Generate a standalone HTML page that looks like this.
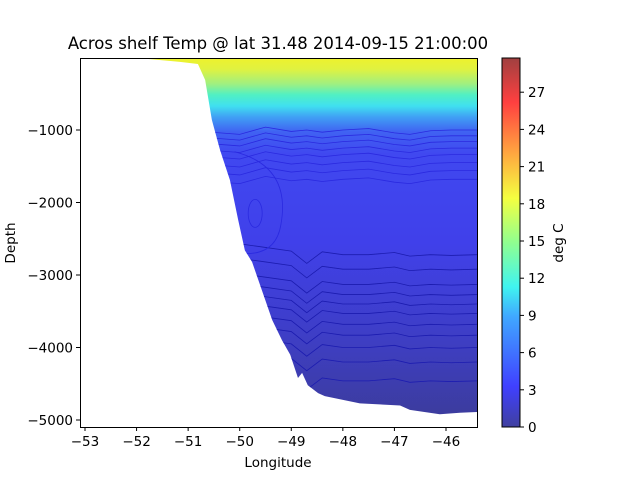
<!DOCTYPE html>
<html><head><meta charset="utf-8">
<style>
body{margin:0;background:#fff;}
svg text{font-family:"DejaVu Sans","Liberation Sans",sans-serif;fill:#000;}
</style></head>
<body>
<svg id="chart" width="640" height="480" viewBox="0 0 640 480">
<defs>
<linearGradient id="oceanGrad" x1="0" y1="58" x2="0" y2="427" gradientUnits="userSpaceOnUse">
<stop offset="0" stop-color="#eef22c"/>
<stop offset="0.03" stop-color="#e0f240"/>
<stop offset="0.07" stop-color="#a0f080"/>
<stop offset="0.10" stop-color="#50f0c4"/>
<stop offset="0.13" stop-color="#40e0f0"/>
<stop offset="0.16" stop-color="#40a0f4"/>
<stop offset="0.20" stop-color="#4062f2"/>
<stop offset="0.26" stop-color="#4048f0"/>
<stop offset="0.5" stop-color="#4040ea"/>
<stop offset="0.75" stop-color="#3e3ec6"/>
<stop offset="1" stop-color="#3c3c98"/>
</linearGradient>
<linearGradient id="cbGrad" x1="0" y1="1" x2="0" y2="0">
<stop offset="0" stop-color="#40409f"/>
<stop offset="0.11" stop-color="#4040ff"/>
<stop offset="0.30" stop-color="#40a8ff"/>
<stop offset="0.38" stop-color="#40f4f0"/>
<stop offset="0.50" stop-color="#90ff90"/>
<stop offset="0.62" stop-color="#f4ff40"/>
<stop offset="0.74" stop-color="#ffa840"/>
<stop offset="0.88" stop-color="#ff4040"/>
<stop offset="1" stop-color="#a04040"/>
</linearGradient>
<clipPath id="ocean"><path id="oceanPath"/></clipPath>
</defs>
<text x="278" y="49" font-size="16.5" text-anchor="middle">Acros shelf Temp @ lat 31.48 2014-09-15 21:00:00</text>
<g id="plot"></g>
<rect x="80.5" y="58.5" width="397" height="369" fill="none" stroke="#000" stroke-width="1"/>
<g id="xticks"></g>
<g id="yticks"></g>
<text x="278" y="467" font-size="13.5" text-anchor="middle">Longitude</text>
<text transform="translate(15,243) rotate(-90)" font-size="13.5" text-anchor="middle">Depth</text>
<rect x="502" y="58" width="18" height="369" fill="url(#cbGrad)" stroke="#000" stroke-width="1"/>
<g id="cbticks"></g>
<text transform="translate(563,243) rotate(-90)" font-size="13.5" text-anchor="middle">deg C</text>
</svg>
<script>
const bathyLon=[-51.93,-51.16,-50.81,-50.67,-50.54,-50.38,-50.19,-50.03,-49.90,-49.76,-49.57,-49.37,-49.18,-49.02,-48.87,-48.79,-48.68,-48.48,-48.35,-47.67,-46.89,-46.70,-46.12,-45.73,-45.40];
const bathyDepth=[-10,-60,-90,-310,-860,-1280,-1690,-2240,-2660,-2820,-3210,-3620,-3900,-4100,-4420,-4350,-4520,-4630,-4670,-4770,-4800,-4860,-4920,-4900,-4890];
const upperLevels=[-1000,-1080,-1160,-1250,-1340,-1450,-1560,-1680];
const upperOffset=[0,60,-40,20,0,30,0,-20,40,60,10,0,0];
const contourLevels=[-2720,-2920,-3130,-3270,-3400,-3530,-3680,-3830,-4000,-4200,-4460];
const contourLon=[-50.7,-50.0,-49.5,-49.0,-48.7,-48.4,-48.0,-47.5,-47.0,-46.7,-46.3,-45.9,-45.4];
const contourOffset=[-150,-150,-100,-50,120,-40,0,0,-30,20,0,10,0];
const cbTicks=[0,3,6,9,12,15,18,21,24,27];
const xTicks=[-53,-52,-51,-50,-49,-48,-47,-46];
const yTicks=[-1000,-2000,-3000,-4000,-5000];

const NS='http://www.w3.org/2000/svg';
const X=v=>85+(v+53)*51.57;
const Y=d=>57.5-d*0.0725;
const CB=t=>427-t*12.4;
function mk(tag,attrs,parent){const e=document.createElementNS(NS,tag);for(const k in attrs)e.setAttribute(k,attrs[k]);parent.appendChild(e);return e;}

const plot=document.getElementById('plot');
let od='M'+X(bathyLon[0])+',58';
for(let i=0;i<bathyLon.length;i++)od+=' L'+X(bathyLon[i])+','+Y(bathyDepth[i]);
od+=' L477,'+Y(bathyDepth[bathyDepth.length-1])+' L477,58 Z';
const ocean=mk('path',{d:od,fill:'url(#oceanGrad)'},plot);


document.getElementById('oceanPath').setAttribute('d',od);

const cg=mk('g',{'clip-path':'url(#ocean)'},plot);


function drawLevel(lv,offs,color){
  let p='';
  contourLon.forEach((lo,i)=>{p+=(i?' L':'M')+X(lo-0.4*(i===0))+','+Y(lv-offs[i]);});
  const ln=mk('path',{d:p,fill:'none',stroke:color,'stroke-width':0.8},cg);
  
  
}
upperLevels.forEach(lv=>drawLevel(lv,upperOffset,'#2a2ae0'));
contourLevels.forEach(lv=>drawLevel(lv,contourOffset,'#1c1cb0'));
const eddy=mk('ellipse',{cx:X(-49.7),cy:Y(-2150),rx:7,ry:14,fill:'none',stroke:'#2a2ae0','stroke-width':0.8},cg);


const eddy2=mk('path',{d:'M'+X(-50.1)+','+Y(-1300)+' Q'+X(-49.0)+','+Y(-1500)+' '+X(-49.2)+','+Y(-2300)+' Q'+X(-49.3)+','+Y(-2750)+' '+X(-50.0)+','+Y(-2700),fill:'none',stroke:'#2a2ae0','stroke-width':0.8},cg);



const xt=document.getElementById('xticks');
xTicks.forEach(v=>{
  const x=X(v);
  const t=mk('line',{x1:x,x2:x,y1:427,y2:431,stroke:'#000'},xt);
  
  
  const l=mk('text',{x:x,y:446,'font-size':13.5,'text-anchor':'middle'},xt);
  l.textContent='\u2212'+Math.abs(v);
  
  
});
const yt=document.getElementById('yticks');
yTicks.forEach(v=>{
  const y=Y(v);
  const t=mk('line',{x1:76,x2:80,y1:y,y2:y,stroke:'#000'},yt);
  
  
  const l=mk('text',{x:73,y:y+5,'font-size':13.5,'text-anchor':'end'},yt);
  l.textContent='\u2212'+Math.abs(v);
  
  
});
const cbt=document.getElementById('cbticks');
cbTicks.forEach(v=>{
  const y=CB(v);
  const t=mk('line',{x1:520,x2:524,y1:y,y2:y,stroke:'#000'},cbt);
  
  
  const l=mk('text',{x:528,y:y+5,'font-size':13.5},cbt);
  l.textContent=String(v);
  
  
});
</script>
</body></html>
